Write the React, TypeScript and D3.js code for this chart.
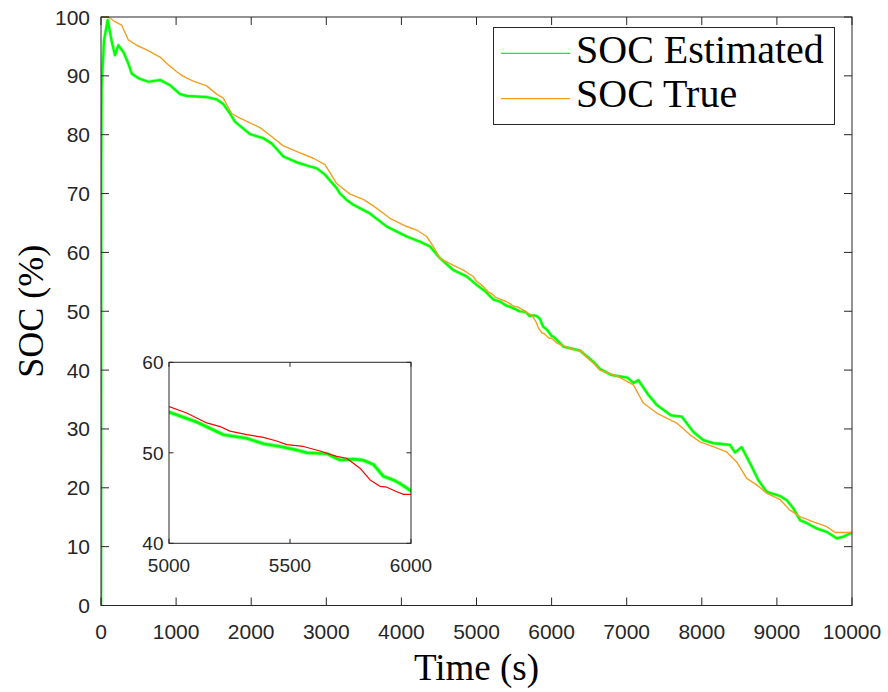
import React from "react";
import * as d3 from "d3";

// Time stamps (s) and SOC values (%) for the estimated state of charge
const estTime = [
  0, 3, 8, 40, 89, 140, 186, 231, 300, 364, 408, 497, 630, 786, 919, 1052, 1141,
  1407, 1540, 1629, 1718, 1784, 1984, 2161, 2273, 2428, 2606, 2783, 2872, 2983,
  3138, 3182, 3272, 3360, 3582, 3804, 4071, 4249, 4381, 4514, 4691, 4869, 5000,
  5114, 5225, 5321, 5390, 5459, 5528, 5569, 5652, 5707, 5762, 5800, 5845, 5886,
  5927, 5955, 6000, 6023, 6156, 6378, 6556, 6644, 6791, 7013, 7089, 7155, 7288,
  7399, 7590, 7732, 7887, 8020, 8153, 8375, 8442, 8531, 8664, 8753, 8864, 9041,
  9130, 9219, 9308, 9396, 9530, 9664, 9797, 9885, 10000,
];
const estSoc = [
  0, 75, 88, 96, 99.5, 96, 93.5, 95.2, 94, 92.1, 90.4, 89.6, 89.0, 89.3, 88.4,
  86.9, 86.6, 86.4, 86.0, 85.2, 83.6, 82.2, 80.1, 79.4, 78.5, 76.3, 75.3, 74.6,
  74.3, 73.2, 70.9, 70.0, 68.9, 68.1, 66.6, 64.4, 62.7, 61.8, 61.0, 59.0, 57.0,
  55.9, 54.5, 53.4, 52.0, 51.6, 51.0, 50.7, 50.3, 50.0, 49.9, 49.2, 49.3, 49.2,
  48.7, 47.4, 47.0, 46.6, 45.8, 45.7, 44.0, 43.3, 41.4, 40.2, 39.2, 38.7, 37.8,
  38.3, 35.8, 34.1, 32.3, 32.1, 29.5, 28.1, 27.6, 27.3, 26.0, 26.9, 23.6, 21.3,
  19.3, 18.6, 17.9, 16.5, 14.5, 14.0, 13.1, 12.5, 11.4, 11.7, 12.4,
];

// Time stamps (s) and SOC values (%) for the true state of charge
const trueTime = [
  0, 98, 186, 275, 364, 475, 608, 786, 875, 1008, 1096, 1229, 1407, 1540, 1629,
  1740, 1851, 2117, 2250, 2428, 2650, 2827, 2983, 3138, 3316, 3493, 3626, 3848,
  4071, 4204, 4337, 4425, 4514, 4647, 4824, 4957, 5000, 5073, 5156, 5211, 5252,
  5321, 5390, 5445, 5486, 5555, 5624, 5693, 5734, 5789, 5831, 5872, 5900, 5941,
  5969, 6000, 6068, 6245, 6378, 6556, 6644, 6867, 7089, 7222, 7399, 7666, 7843,
  7976, 8153, 8331, 8464, 8598, 8731, 8864, 9041, 9174, 9308, 9487, 9664, 9774,
  10000,
];
const trueSoc = [
  100, 100, 99.2, 98.6, 96.1, 95.2, 94.4, 93.2, 92.1, 90.7, 89.9, 89.1, 88.3,
  86.9, 86.2, 83.6, 82.8, 81.2, 79.9, 78.1, 76.9, 76.0, 74.9, 71.7, 69.9, 69.0,
  67.9, 65.8, 64.4, 63.8, 62.7, 61.0, 59.0, 58.1, 57.0, 55.9, 55.1, 54.4, 53.3,
  52.9, 52.4, 52.0, 51.7, 51.3, 50.9, 50.7, 50.2, 49.6, 49.4, 48.3, 47.0, 46.3,
  46.2, 45.7, 45.4, 45.4, 44.6, 43.7, 43.3, 41.2, 40.0, 39.0, 37.5, 34.4, 32.7,
  31.0, 29.0, 27.8, 27.0, 26.1, 24.4, 21.6, 20.5, 19.1, 18.0, 16.2, 15.1, 14.2,
  13.4, 12.4, 12.4,
];

const xTicks = [0, 1000, 2000, 3000, 4000, 5000, 6000, 7000, 8000, 9000, 10000];
const yTicks = [0, 10, 20, 30, 40, 50, 60, 70, 80, 90, 100];
const insetXTicks = [5000, 5500, 6000];
const insetYTicks = [40, 50, 60];
const legendLabels = ["SOC Estimated", "SOC True"];

const W = 888;
const H = 692;
const axisColor = "#262626";
const green = "#00ff00";
const orange = "#f0a01e";
const red = "#ff0000";
const sansFont = "'Liberation Sans', Arial, Helvetica, sans-serif";
const serifFont = "'Liberation Serif', 'Times New Roman', serif";

type Pt = [number, number];
const zip = (xs: number[], ys: number[]): Pt[] => xs.map((x, i) => [x, ys[i]]);

export default function App() {
  const estData = zip(estTime, estSoc);
  const trueData = zip(trueTime, trueSoc);

  // Main axes
  const x = d3.scaleLinear().domain([0, 10000]).range([101, 852]);
  const y = d3.scaleLinear().domain([0, 100]).range([605.5, 17]);
  const line = d3
    .line<Pt>()
    .x((d) => x(d[0]))
    .y((d) => y(d[1]));

  // Zoomed inset axes
  const ix = d3.scaleLinear().domain([5000, 6000]).range([169, 411]);
  const iy = d3.scaleLinear().domain([40, 60]).range([543.3, 362.3]);
  const iline = d3
    .line<Pt>()
    .x((d) => ix(d[0]))
    .y((d) => iy(d[1]));

  const tickLen = 8;
  const iTickLen = 4.5;
  const [x0, x1] = x.range();
  const [yb, yt] = y.range();
  const [ix0, ix1] = ix.range();
  const [iyb, iyt] = iy.range();

  return (
    <svg
      width={W}
      height={H}
      viewBox={`0 0 ${W} ${H}`}
      style={{ position: "absolute", left: 0, top: 0, background: "#fff" }}
    >
      <defs>
        <clipPath id="mainClip">
          <rect x={x0} y={yt - 1} width={x1 - x0} height={yb - yt + 1} />
        </clipPath>
        <clipPath id="insetClip">
          <rect x={ix0} y={iyt} width={ix1 - ix0} height={iyb - iyt} />
        </clipPath>
      </defs>
      <rect x={0} y={0} width={W} height={H} fill="#fff" />

      {/* main plot lines */}
      <g clipPath="url(#mainClip)" fill="none" strokeLinejoin="round">
        <path d={line(estData) ?? ""} stroke="#9dff9d" strokeWidth={3.4} />
        <path d={line(estData) ?? ""} stroke={green} strokeWidth={2.2} />
        <path d={line(trueData) ?? ""} stroke={orange} strokeWidth={1.4} />
      </g>

      {/* main axes box and ticks */}
      <rect
        x={x0}
        y={yt}
        width={x1 - x0}
        height={yb - yt}
        fill="none"
        stroke={axisColor}
        strokeWidth={1}
      />
      {xTicks.map((t) => (
        <g key={`xt${t}`}>
          <line x1={x(t)} x2={x(t)} y1={yb} y2={yb - tickLen} stroke={axisColor} />
          <line x1={x(t)} x2={x(t)} y1={yt} y2={yt + tickLen} stroke={axisColor} />
          <text
            x={x(t)}
            y={639}
            textAnchor="middle"
            fontFamily={sansFont}
            fontSize={21}
            fill={axisColor}
          >
            {t}
          </text>
        </g>
      ))}
      {yTicks.map((t) => (
        <g key={`yt${t}`}>
          <line x1={x0} x2={x0 + tickLen} y1={y(t)} y2={y(t)} stroke={axisColor} />
          <line x1={x1} x2={x1 - tickLen} y1={y(t)} y2={y(t)} stroke={axisColor} />
          <text
            x={90}
            y={y(t) + 7.5}
            textAnchor="end"
            fontFamily={sansFont}
            fontSize={21}
            fill={axisColor}
          >
            {t}
          </text>
        </g>
      ))}

      {/* axis titles */}
      <text
        x={(x0 + x1) / 2}
        y={680}
        textAnchor="middle"
        fontFamily={serifFont}
        fontSize={37}
        fill="#000"
      >
        Time (s)
      </text>
      <text
        transform={`translate(42.5, ${(yb + yt) / 2}) rotate(-90)`}
        textAnchor="middle"
        fontFamily={serifFont}
        fontSize={36}
        fill="#000"
      >
        SOC (%)
      </text>

      {/* legend */}
      <rect x={493.5} y={27.5} width={341} height={97} fill="#fff" stroke={axisColor} strokeWidth={1} />
      {legendLabels.map((lab, i) => {
        const ly = [53.3, 98.7][i];
        const by = [62.7, 107][i];
        return (
          <g key={lab}>
            <line
              x1={501}
              x2={570}
              y1={ly}
              y2={ly}
              stroke={i === 0 ? green : orange}
              strokeWidth={i === 0 ? 1.3 : 1.3}
            />
            <text x={576} y={by} fontFamily={serifFont} fontSize={40} fill="#000">
              {lab}
            </text>
          </g>
        );
      })}

      {/* inset zoom of 5000–6000 s */}
      <rect x={ix0} y={iyt} width={ix1 - ix0} height={iyb - iyt} fill="#fff" />
      <g clipPath="url(#insetClip)" fill="none" strokeLinejoin="round">
        <path d={iline(estData) ?? ""} stroke="#a8ffa8" strokeWidth={4.6} />
        <path d={iline(estData) ?? ""} stroke={green} strokeWidth={2.6} />
        <path d={iline(trueData) ?? ""} stroke={red} strokeWidth={1.2} />
      </g>
      <rect
        x={ix0}
        y={iyt}
        width={ix1 - ix0}
        height={iyb - iyt}
        fill="none"
        stroke={axisColor}
        strokeWidth={1}
      />
      {insetXTicks.map((t) => (
        <g key={`ixt${t}`}>
          <line x1={ix(t)} x2={ix(t)} y1={iyb} y2={iyb - iTickLen} stroke={axisColor} />
          <line x1={ix(t)} x2={ix(t)} y1={iyt} y2={iyt + iTickLen} stroke={axisColor} />
          <text
            x={ix(t)}
            y={571.7}
            textAnchor="middle"
            fontFamily={sansFont}
            fontSize={19}
            fill={axisColor}
          >
            {t}
          </text>
        </g>
      ))}
      {insetYTicks.map((t) => (
        <g key={`iyt${t}`}>
          <line x1={ix0} x2={ix0 + iTickLen} y1={iy(t)} y2={iy(t)} stroke={axisColor} />
          <line x1={ix1} x2={ix1 - iTickLen} y1={iy(t)} y2={iy(t)} stroke={axisColor} />
          <text
            x={163.5}
            y={iy(t) + 6.7}
            textAnchor="end"
            fontFamily={sansFont}
            fontSize={19}
            fill={axisColor}
          >
            {t}
          </text>
        </g>
      ))}
    </svg>
  );
}
